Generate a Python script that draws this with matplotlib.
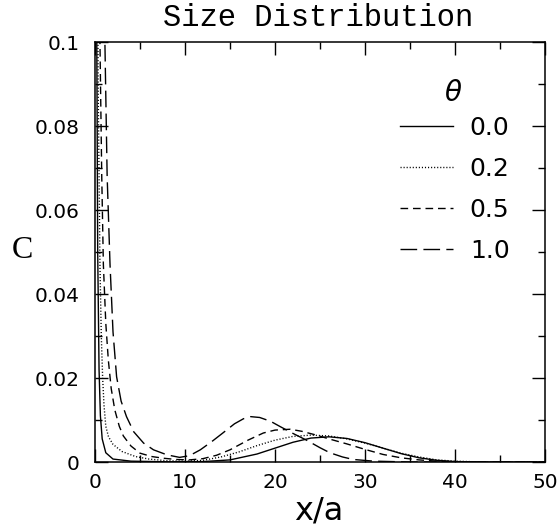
import matplotlib
matplotlib.use("Agg")
import matplotlib.pyplot as plt
from matplotlib.lines import Line2D

plt.rcParams['lines.scale_dashes'] = False

# ---- data ----
theta_labels = ["0.0", "0.2", "0.5", "1.0"]

x_t00 = [0.0, 0.1, 0.2, 0.3, 0.45, 0.6, 0.8, 1.2, 2.0, 4.0, 8.0, 12.0, 15.0, 18.0, 20.0, 22.0,
         24.0, 26.0, 28.0, 30.0, 32.0, 34.0, 36.0, 38.0, 40.0, 44.0, 50.0]
y_t00 = [0.40, 0.20, 0.10, 0.05, 0.022, 0.011, 0.0055, 0.0022, 0.0007, 0.0002, 0.00005, 0.0001,
         0.0005, 0.0019, 0.0033, 0.0047, 0.0057, 0.0060, 0.0056, 0.0046, 0.0033, 0.0020, 0.0010,
         0.0004, 0.0001, 0.0, 0.0]

x_t02 = [0.0, 0.2, 0.35, 0.55, 0.7, 0.85, 1.0, 1.2, 1.5, 2.0, 3.0, 4.5, 6.0, 8.0, 10.0, 12.0,
         14.0, 16.0, 18.0, 20.0, 22.0, 24.0, 26.0, 28.0, 30.0, 32.0, 34.0, 36.0, 38.0, 40.0, 43.0, 50.0]
y_t02 = [0.40, 0.16, 0.09, 0.047, 0.030, 0.020, 0.0135, 0.0085, 0.0060, 0.0042, 0.0025, 0.0013,
         0.0007, 0.0003, 0.0002, 0.0004, 0.0012, 0.0024, 0.0039, 0.0052, 0.0061, 0.0064, 0.0062,
         0.0055, 0.0045, 0.0033, 0.0021, 0.0012, 0.0005, 0.0002, 0.0, 0.0]

x_t05 = [0.0, 0.3, 0.55, 0.75, 0.93, 1.2, 1.48, 1.8, 2.2, 2.7, 3.15, 4.0, 5.0, 6.3, 7.6, 9.0,
         10.5, 12.0, 13.5, 15.0, 17.0, 18.7, 20.0, 21.7, 23.0, 24.6, 26.0, 28.0, 30.0, 32.0, 34.0,
         36.0, 38.0, 41.0, 50.0]
y_t05 = [0.40, 0.20, 0.10, 0.068, 0.047, 0.033, 0.0243, 0.0175, 0.0124, 0.0085, 0.0062, 0.0038,
         0.0021, 0.0013, 0.0009, 0.0006, 0.0005, 0.0008, 0.0016, 0.0029, 0.0052, 0.0069, 0.0076,
         0.0078, 0.0073, 0.0064, 0.0055, 0.0043, 0.0030, 0.0018, 0.0010, 0.0005, 0.0002, 0.0, 0.0]

x_t10 = [0.0, 0.6, 1.1, 1.35, 1.67, 2.0, 2.4, 2.9, 3.5, 4.3, 5.4, 6.5, 8.0, 9.4, 10.5, 11.7, 13.0,
         14.2, 15.5, 16.5, 17.3, 18.3, 19.5, 20.6, 22.0, 23.5, 25.0, 26.1, 27.5, 28.7, 31.0, 35.0, 50.0]
y_t10 = [0.40, 0.20, 0.10, 0.068, 0.047, 0.031, 0.0203, 0.0145, 0.0108, 0.0072, 0.0045, 0.0029,
         0.0017, 0.0011, 0.0015, 0.0029, 0.0049, 0.0069, 0.0091, 0.0103, 0.0108, 0.0106, 0.0097,
         0.0084, 0.0068, 0.0052, 0.0034, 0.0022, 0.0012, 0.0006, 0.0002, 0.0, 0.0]

x_ticks = [0, 10, 20, 30, 40, 50]
x_ticklabels = ["0", "10", "20", "30", "40", "50"]
y_ticks = [0, 0.02, 0.04, 0.06, 0.08, 0.1]
y_ticklabels = ["0", "0.02", "0.04", "0.06", "0.08", "0.1"]

# ---- figure ----
fig = plt.figure(figsize=(5.58, 5.25), dpi=100)
ax = fig.add_axes([95 / 558, (525 - 462) / 525, 450 / 558, 420 / 525])

lw = 1.0
styles = ['-', (0, (0.8, 1.4)), (0, (5.5, 3.5)), (0, (12, 4.5))]
series = [(x_t00, y_t00), (x_t02, y_t02), (x_t05, y_t05), (x_t10, y_t10)]
for (xs, ys), ls, lab in zip(series, styles, theta_labels):
    ax.plot(xs, ys, color='black', lw=lw, linestyle=ls, label=lab)

ax.set_xlim(0, 50)
ax.set_ylim(0, 0.1)
ax.set_xticks(x_ticks)
ax.set_xticklabels(x_ticklabels)
ax.set_yticks(y_ticks)
ax.set_yticklabels(y_ticklabels)
ax.set_xticks([5, 15, 25, 35, 45], minor=True)
ax.set_yticks([0.01, 0.03, 0.05, 0.07, 0.09], minor=True)

for lab in ax.get_xticklabels() + ax.get_yticklabels():
    lab.set_fontfamily('DejaVu Sans')
    lab.set_fontsize(14.5)

ax.tick_params(which='both', direction='in', top=True, right=True, width=1.0)
ax.tick_params(which='major', length=9.5)
ax.tick_params(which='minor', length=5)
ax.tick_params(axis='x', which='major', pad=8)
ax.tick_params(axis='y', which='major', pad=11)
for s in ax.spines.values():
    s.set_linewidth(1.1)

# legend
handles = [Line2D([], [], color='black', lw=lw, linestyle=ls) for ls in styles]
leg = ax.legend(handles, theta_labels, frameon=False,
                loc='center', bbox_to_anchor=((455 - 95) / 450, (462 - 189.5) / 420),
                prop=dict(family='DejaVu Sans', size=18),
                handlelength=2.1, handletextpad=0.68, labelspacing=0.68,
                borderpad=0, borderaxespad=0)
ax.text((453 - 95) / 450, (462 - 93) / 420, r'$\theta$', transform=ax.transAxes,
        ha='center', va='center', fontsize=20)

fig.text(318 / 558, 1 - 18 / 525, 'Size Distribution', ha='center', va='center',
         family='Liberation Mono', fontsize=22)
fig.text(319 / 558, 1 - 511 / 525, 'x/a', ha='center', va='center',
         family='DejaVu Sans', fontsize=23)
fig.text(22 / 558, 1 - 251 / 525, 'C', ha='center', va='center',
         family='Liberation Serif', fontsize=23)

fig.savefig('out.png', dpi=100)
